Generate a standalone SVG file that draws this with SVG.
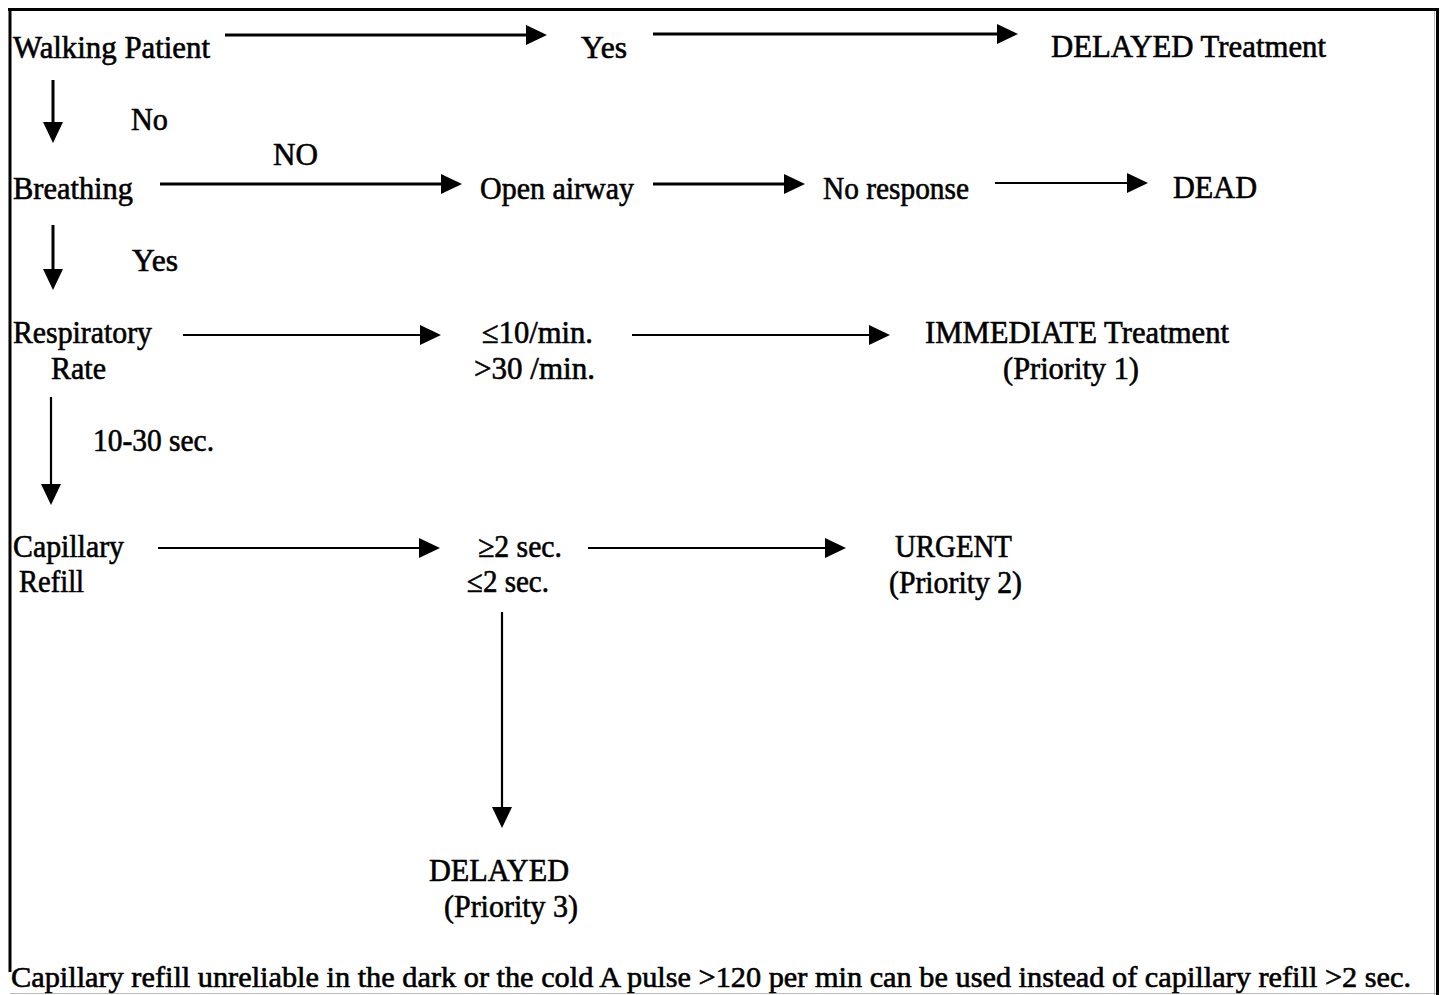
<svg xmlns="http://www.w3.org/2000/svg" width="1441" height="995" viewBox="0 0 1441 995">
<defs>
<style>
text{font-family:"Liberation Serif","Times New Roman",serif;font-size:31px;fill:#000;stroke:#000;stroke-width:0.6}
.foot{font-size:29px}
.c{stroke:#000;fill:none;stroke-width:3}
.thin{stroke-width:2.2}
</style>
<marker id="ah" markerUnits="userSpaceOnUse" markerWidth="24" markerHeight="24" viewBox="0 0 24 24" refX="12" refY="12" orient="auto">
<path d="M0,2 L21,12 L0,22 Z" fill="#000"/>
</marker>
</defs>
<rect width="1441" height="995" fill="#fff"/>
<g id="frame">
<line x1="8" y1="9.5" x2="1439" y2="9.5" stroke="#000" stroke-width="3"/>
<line x1="10" y1="8" x2="10" y2="972" stroke="#000" stroke-width="3"/>
<line x1="1437.5" y1="8" x2="1437.5" y2="995" stroke="#000" stroke-width="3"/>
<line x1="1434.5" y1="11" x2="1434.5" y2="995" stroke="#bbb" stroke-width="1"/>
<line x1="10" y1="993.5" x2="1436" y2="993.5" stroke="#bbb" stroke-width="1"/>
</g>
<g id="connectors">
<line class="c" x1="225" y1="35" x2="538" y2="35" marker-end="url(#ah)"/>
<line class="c" x1="653" y1="34" x2="1009" y2="34" marker-end="url(#ah)"/>
<line class="c" x1="53" y1="80" x2="53" y2="134" marker-end="url(#ah)"/>
<line class="c" x1="160" y1="184" x2="453" y2="184" marker-end="url(#ah)"/>
<line class="c" x1="653" y1="184" x2="796" y2="184" marker-end="url(#ah)"/>
<line class="c thin" x1="995" y1="183" x2="1139" y2="183" marker-end="url(#ah)"/>
<line class="c" x1="53" y1="225" x2="53" y2="281" marker-end="url(#ah)"/>
<line class="c thin" x1="183" y1="335" x2="432" y2="335" marker-end="url(#ah)"/>
<line class="c thin" x1="632" y1="335" x2="881" y2="335" marker-end="url(#ah)"/>
<line class="c thin" x1="51" y1="397" x2="51" y2="496" marker-end="url(#ah)"/>
<line class="c thin" x1="158" y1="548" x2="431" y2="548" marker-end="url(#ah)"/>
<line class="c thin" x1="588" y1="548" x2="837" y2="548" marker-end="url(#ah)"/>
<line class="c thin" x1="502" y1="612" x2="502" y2="819" marker-end="url(#ah)"/>
</g>
<g id="walking"><text x="13" y="58" textLength="197" lengthAdjust="spacingAndGlyphs">Walking Patient</text></g>
<g id="yes1"><text x="581" y="58" textLength="46" lengthAdjust="spacingAndGlyphs">Yes</text></g>
<g id="delayedTreatment"><text x="1051" y="57" textLength="275" lengthAdjust="spacingAndGlyphs">DELAYED Treatment</text></g>
<g id="lblNo"><text x="131" y="130" textLength="37" lengthAdjust="spacingAndGlyphs">No</text></g>
<g id="lblNO"><text x="273" y="165" textLength="45" lengthAdjust="spacingAndGlyphs">NO</text></g>
<g id="breathing"><text x="13" y="199" textLength="120" lengthAdjust="spacingAndGlyphs">Breathing</text></g>
<g id="openAirway"><text x="480" y="199" textLength="154" lengthAdjust="spacingAndGlyphs">Open airway</text></g>
<g id="noResponse"><text x="823" y="199" textLength="146" lengthAdjust="spacingAndGlyphs">No response</text></g>
<g id="dead"><text x="1173" y="198" textLength="84" lengthAdjust="spacingAndGlyphs">DEAD</text></g>
<g id="lblYes"><text x="132" y="271" textLength="46" lengthAdjust="spacingAndGlyphs">Yes</text></g>
<g id="respRate">
<text x="13" y="343" textLength="139" lengthAdjust="spacingAndGlyphs">Respiratory</text>
<text x="51" y="379" textLength="55" lengthAdjust="spacingAndGlyphs">Rate</text>
</g>
<g id="rateValues">
<text x="482" y="343" textLength="111" lengthAdjust="spacingAndGlyphs">≤10/min.</text>
<text x="474" y="379" textLength="121" lengthAdjust="spacingAndGlyphs">&gt;30 /min.</text>
</g>
<g id="immediate">
<text x="925" y="343" textLength="304" lengthAdjust="spacingAndGlyphs">IMMEDIATE Treatment</text>
<text x="1003" y="379" textLength="136" lengthAdjust="spacingAndGlyphs">(Priority 1)</text>
</g>
<g id="lbl1030"><text x="93" y="451" textLength="121" lengthAdjust="spacingAndGlyphs">10-30 sec.</text></g>
<g id="capRefill">
<text x="13" y="557" textLength="111" lengthAdjust="spacingAndGlyphs">Capillary</text>
<text x="19" y="592" textLength="65" lengthAdjust="spacingAndGlyphs">Refill</text>
</g>
<g id="refillValues">
<text x="478" y="557" textLength="84" lengthAdjust="spacingAndGlyphs">≥2 sec.</text>
<text x="467" y="592" textLength="82" lengthAdjust="spacingAndGlyphs">≤2 sec.</text>
</g>
<g id="urgent">
<text x="895" y="557" textLength="117" lengthAdjust="spacingAndGlyphs">URGENT</text>
<text x="889" y="593" textLength="133" lengthAdjust="spacingAndGlyphs">(Priority 2)</text>
</g>
<g id="delayed3">
<text x="429" y="881" textLength="140" lengthAdjust="spacingAndGlyphs">DELAYED</text>
<text x="444" y="917" textLength="134" lengthAdjust="spacingAndGlyphs">(Priority 3)</text>
</g>
<g id="footnote"><text class="foot" x="11" y="987" textLength="1400" lengthAdjust="spacingAndGlyphs">Capillary refill unreliable in the dark or the cold A pulse &gt;120 per min can be used instead of capillary refill &gt;2 sec.</text></g>
</svg>
